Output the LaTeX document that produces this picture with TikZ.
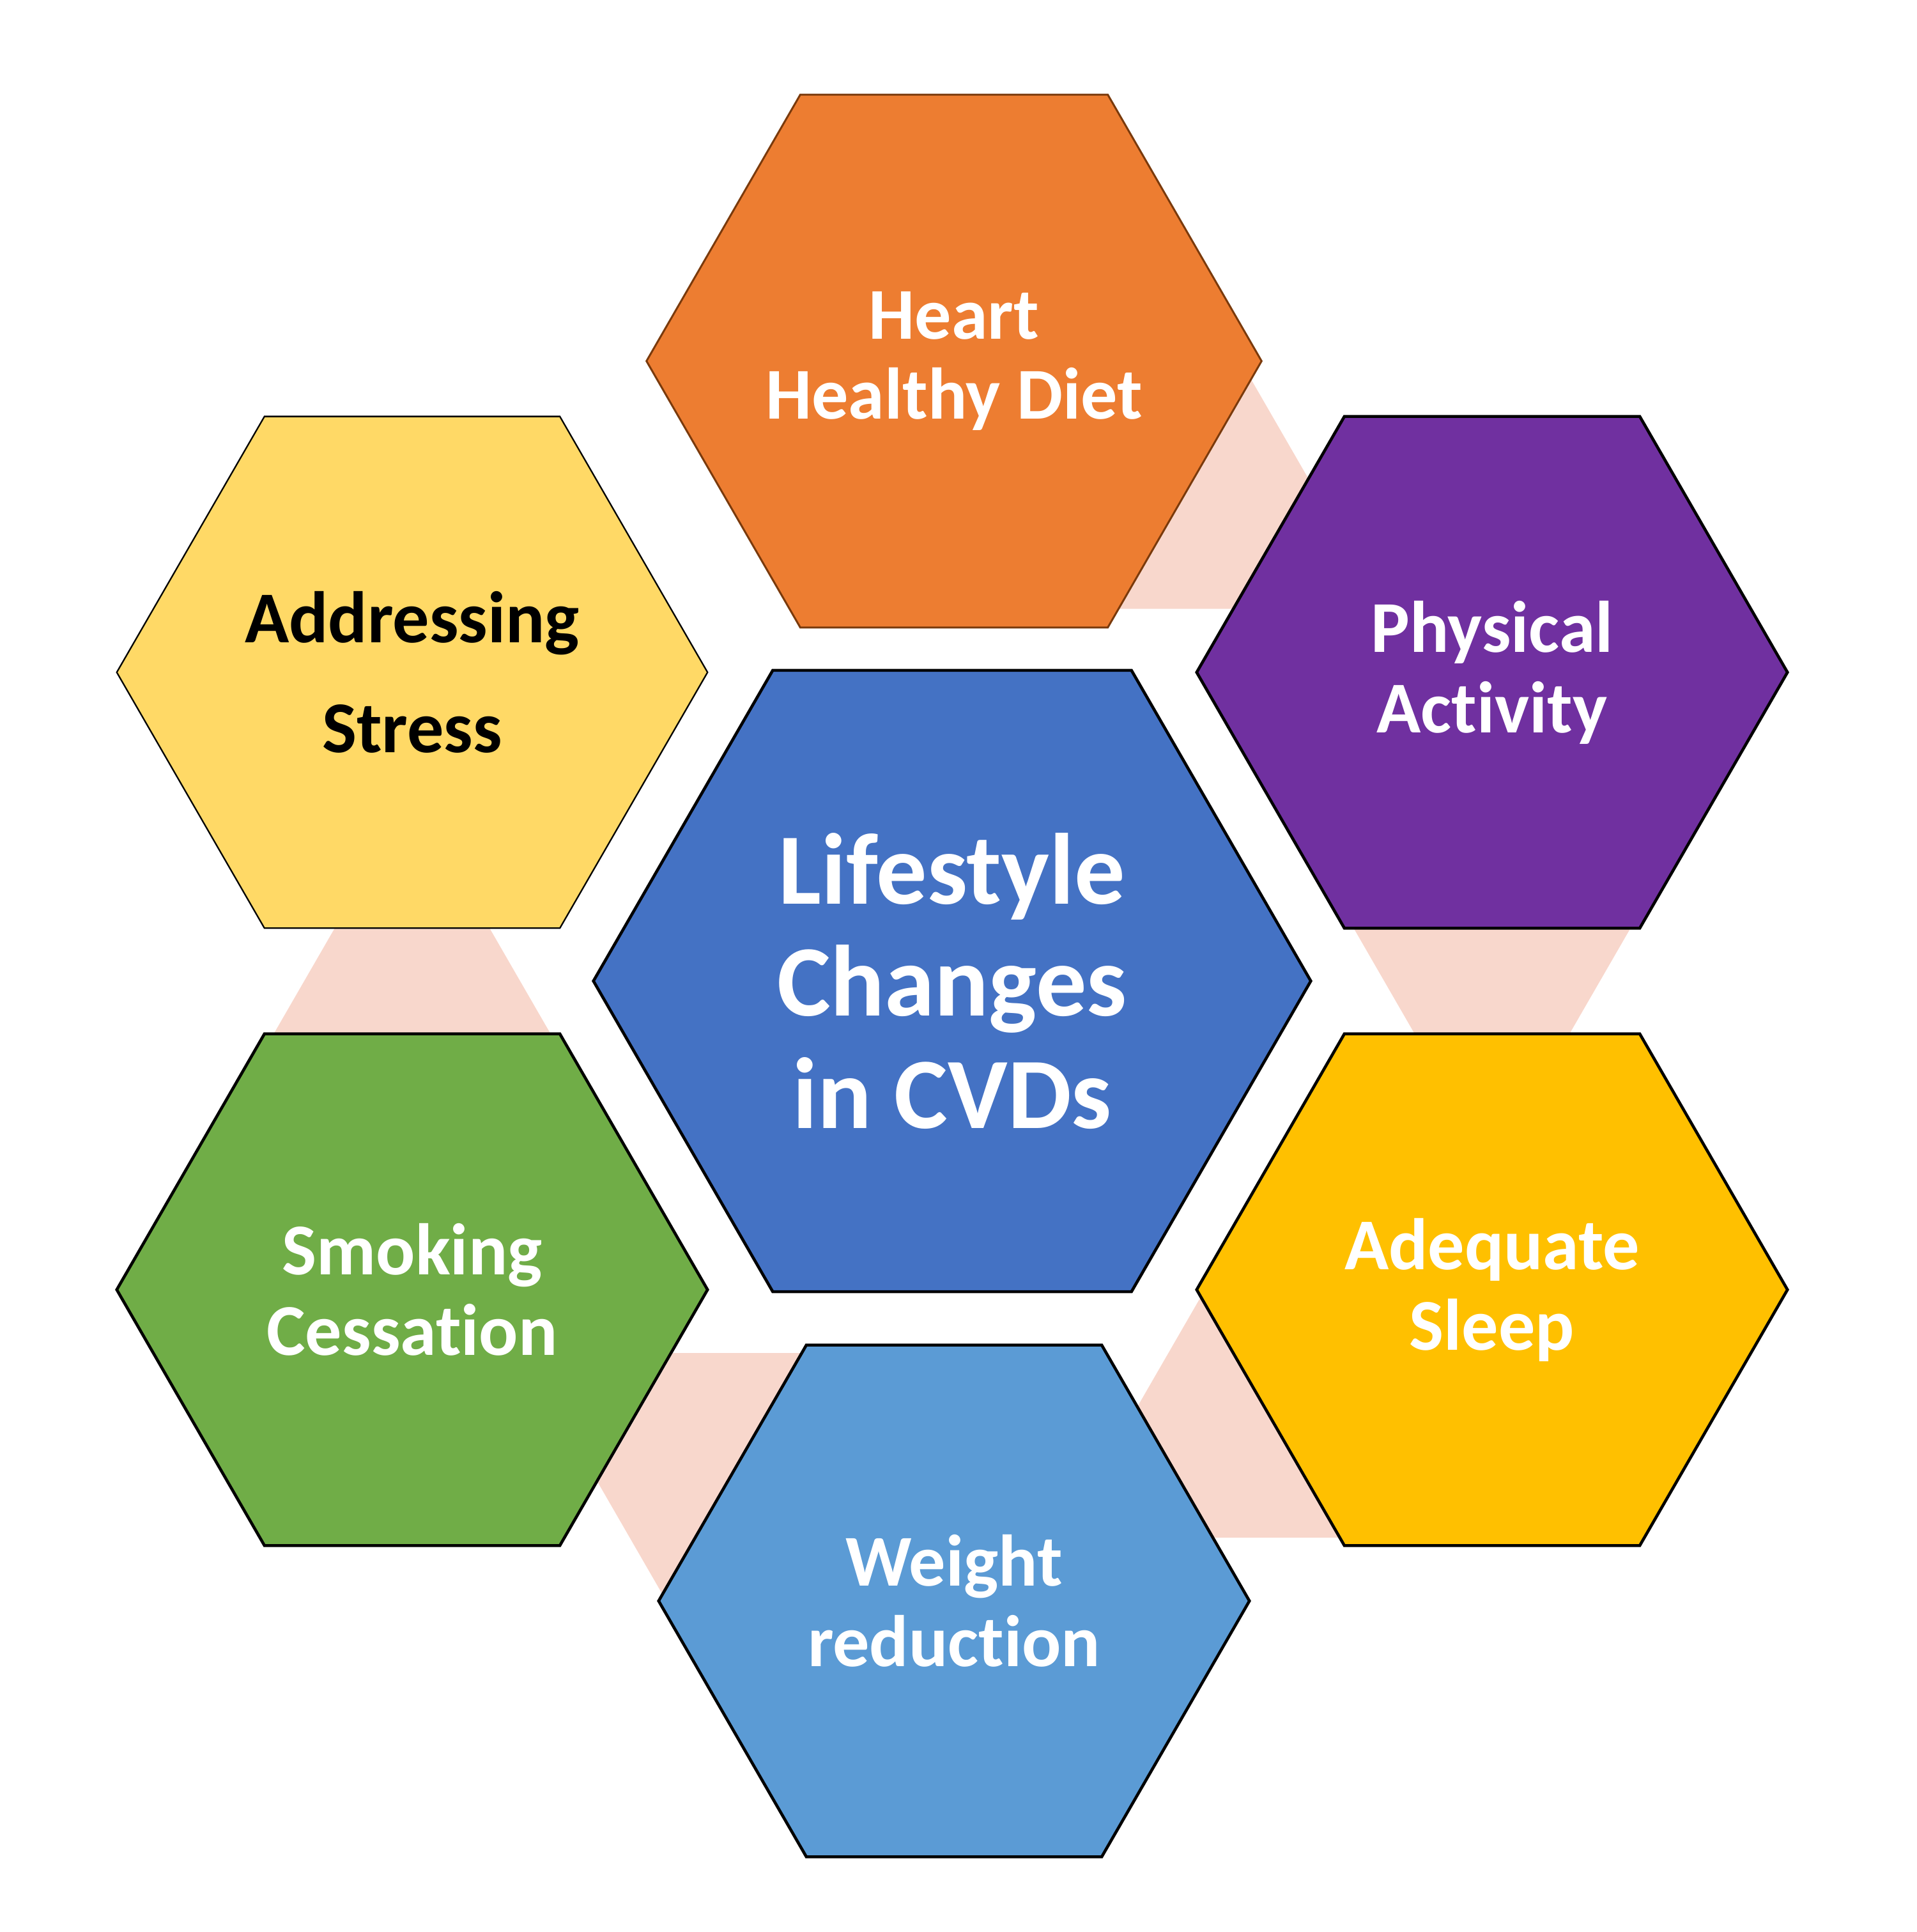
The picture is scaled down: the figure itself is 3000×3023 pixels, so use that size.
\documentclass[tikz,border=0pt]{standalone}
\usepackage{fontspec}
\setmainfont{Carlito}[RawFeature={-liga;-clig;-dlig}]
\usetikzlibrary{shapes.geometric}
\definecolor{cHeart}{HTML}{ED7D31}
\definecolor{cHeartLine}{HTML}{7A3A0C}
\definecolor{cPhys}{HTML}{7030A0}
\definecolor{cAddr}{HTML}{FFD966}
\definecolor{cCenter}{HTML}{4472C4}
\definecolor{cSmoke}{HTML}{70AD47}
\definecolor{cSleep}{HTML}{FFC000}
\definecolor{cWeight}{HTML}{5B9BD5}
\definecolor{cLink}{HTML}{F8D7CC}
\begin{document}
\begin{tikzpicture}[x=0.01cm,y=0.01cm,
  hexbase/.style={regular polygon, regular polygon sides=6, inner sep=0pt, outer sep=0pt, align=center},
  outerhex/.style={hexbase, minimum size=9.24cm, draw=black, line width=1.3pt,
    font=\fontsize{32.5}{35.8}\selectfont\bfseries, text=white},
  centerhex/.style={hexbase, minimum size=11.22cm, draw=black, line width=1.3pt,
    font=\fontsize{45}{50}\selectfont\bfseries, text=white},
  linkhex/.style={hexbase, minimum size=4.68cm, fill=cLink, draw=none}]
\useasboundingbox (0,0) rectangle (3000,3023);
% connector hexagons (behind)
\node[linkhex] (l1) at (1814,2273) {};
\node[linkhex] (l2) at (2335,1601) {};
\node[linkhex] (l3) at (2013,820) {};
\node[linkhex] (l4) at (1170,703) {};
\node[linkhex] (l5) at (645,1375) {};
% outer hexagons
\node[outerhex, fill=cHeart, draw=cHeartLine, line width=0.85pt] (heart) at (1493,2458) {Heart\\Healthy Diet};
\node[outerhex, fill=cPhys] (phys) at (2335,1971) {Physical\\Activity};
\node[outerhex, fill=cSleep] (sleep) at (2335,1005) {Adequate\\Sleep};
\node[outerhex, fill=cWeight] (weight) at (1493,518) {Weight\\reduction};
\node[outerhex, fill=cSmoke] (smoke) at (645,1005) {Smoking\\Cessation};
\node[outerhex, fill=cAddr, line width=0.65pt, text=black,
  font=\fontsize{32.5}{49}\selectfont\bfseries] (addr) at (645,1971) {Addressing\\Stress};
% center hexagon
\node[centerhex, fill=cCenter] (center) at (1490,1488) {Lifestyle\\Changes\\in CVDs};
\end{tikzpicture}
\end{document}
